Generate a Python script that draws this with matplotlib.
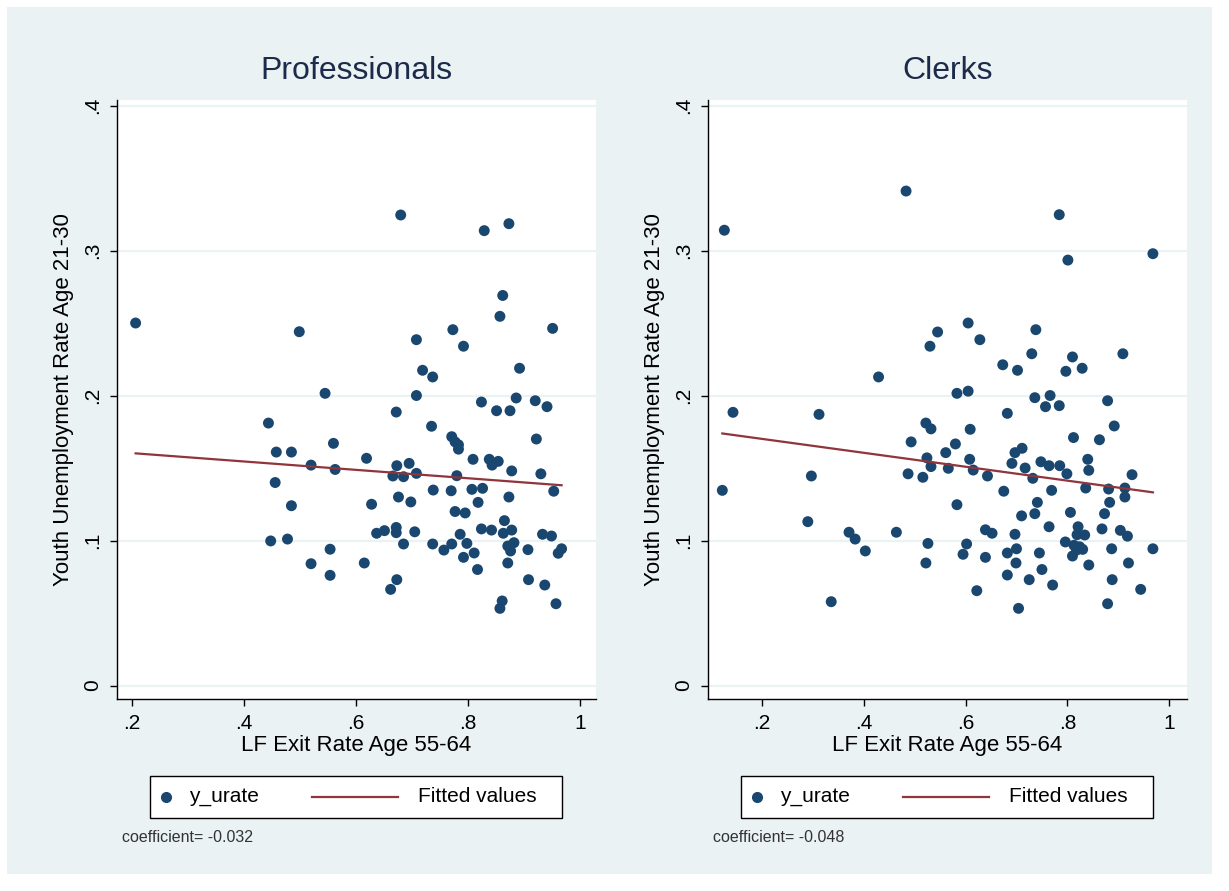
import numpy as np
import matplotlib.pyplot as plt
from matplotlib.patches import Rectangle
from matplotlib.lines import Line2D

plt.rcParams['font.family'] = ['Liberation Sans', 'DejaVu Sans']

# LF exit rate (55-64) vs youth unemployment rate (21-30)
pro_x = [0.207, 0.499, 0.545, 0.444, 0.458, 0.485, 0.560, 0.520, 0.563, 0.456,
         0.485, 0.448, 0.478, 0.554, 0.520, 0.554, 0.680, 0.829, 0.873, 0.862,
         0.857, 0.773, 0.951, 0.708, 0.792, 0.719, 0.737, 0.892, 0.708, 0.672,
         0.824, 0.851, 0.875, 0.886, 0.920, 0.941, 0.735, 0.771, 0.777, 0.783,
         0.783, 0.922, 0.619, 0.673, 0.695, 0.666, 0.685, 0.708, 0.809, 0.838,
         0.843, 0.854, 0.878, 0.930, 0.780, 0.628, 0.676, 0.698, 0.738, 0.770,
         0.807, 0.826, 0.818, 0.873, 0.953, 0.777, 0.795, 0.865, 0.637, 0.651,
         0.672, 0.672, 0.705, 0.685, 0.737, 0.757, 0.771, 0.786, 0.798, 0.792,
         0.811, 0.824, 0.842, 0.863, 0.878, 0.871, 0.882, 0.876, 0.907, 0.933,
         0.949, 0.961, 0.967, 0.615, 0.817, 0.871, 0.673, 0.662, 0.908, 0.937,
         0.857, 0.861, 0.957]
pro_y = [0.250, 0.244, 0.2015, 0.181, 0.161, 0.161, 0.167, 0.152, 0.149, 0.140,
         0.124, 0.0997, 0.101, 0.094, 0.084, 0.076, 0.3245, 0.3137, 0.3185, 0.269,
         0.2546, 0.2454, 0.2463, 0.2385, 0.234, 0.2174, 0.2128, 0.2188, 0.200, 0.1886,
         0.1955, 0.1895, 0.1895, 0.1983, 0.1964, 0.1923, 0.1788, 0.1716, 0.168, 0.166,
         0.163, 0.170, 0.1567, 0.1516, 0.1532, 0.1445, 0.144, 0.1463, 0.156, 0.156,
         0.152, 0.1546, 0.148, 0.146, 0.1447, 0.125, 0.130, 0.1266, 0.1348, 0.1343,
         0.1353, 0.136, 0.1263, 0.130, 0.134, 0.120, 0.119, 0.1137, 0.105, 0.1068,
         0.109, 0.1054, 0.106, 0.0976, 0.0976, 0.0934, 0.0976, 0.1043, 0.098, 0.0884,
         0.0914, 0.108, 0.1072, 0.105, 0.1072, 0.0962, 0.0985, 0.0928, 0.0937, 0.1043,
         0.1031, 0.0912, 0.0943, 0.0845, 0.080, 0.0845, 0.073, 0.0663, 0.073, 0.0693,
         0.0532, 0.0583, 0.0564]

clk_x = [0.126, 0.483, 0.545, 0.530, 0.429, 0.143, 0.312, 0.522, 0.532, 0.493,
         0.122, 0.297, 0.487, 0.516, 0.524, 0.532, 0.290, 0.371, 0.383, 0.403,
         0.464, 0.526, 0.522, 0.336, 0.784, 0.801, 0.968, 0.605, 0.628, 0.738,
         0.730, 0.810, 0.797, 0.829, 0.909, 0.673, 0.702, 0.583, 0.605, 0.736,
         0.766, 0.757, 0.784, 0.879, 0.682, 0.609, 0.892, 0.812, 0.863, 0.580,
         0.561, 0.566, 0.608, 0.615, 0.643, 0.697, 0.711, 0.691, 0.717, 0.732,
         0.748, 0.764, 0.785, 0.799, 0.840, 0.842, 0.927, 0.836, 0.881, 0.913,
         0.913, 0.675, 0.769, 0.583, 0.741, 0.736, 0.710, 0.806, 0.883, 0.873,
         0.764, 0.639, 0.652, 0.697, 0.821, 0.819, 0.834, 0.868, 0.904, 0.918,
         0.602, 0.595, 0.639, 0.682, 0.700, 0.699, 0.745, 0.796, 0.813, 0.818,
         0.830, 0.810, 0.824, 0.887, 0.968, 0.682, 0.750, 0.842, 0.920, 0.725,
         0.771, 0.888, 0.622, 0.944, 0.704, 0.879]
clk_y = [0.314, 0.341, 0.2438, 0.234, 0.2128, 0.1884, 0.187, 0.181, 0.177, 0.168,
         0.1346, 0.1445, 0.146, 0.1436, 0.157, 0.151, 0.113, 0.1057, 0.101, 0.0928,
         0.1057, 0.098, 0.0845, 0.0578, 0.3247, 0.2934, 0.2978, 0.250, 0.2385, 0.2454,
         0.2288, 0.2266, 0.2167, 0.2188, 0.2288, 0.2212, 0.2174, 0.2015, 0.203, 0.1985,
         0.200, 0.1923, 0.193, 0.1964, 0.1877, 0.1767, 0.179, 0.171, 0.1695, 0.1666,
         0.1606, 0.1498, 0.156, 0.1486, 0.1445, 0.1606, 0.1636, 0.1532, 0.150, 0.1429,
         0.1543, 0.1516, 0.1516, 0.146, 0.156, 0.1484, 0.1454, 0.1362, 0.1355, 0.1362,
         0.130, 0.134, 0.1346, 0.1247, 0.1263, 0.1185, 0.117, 0.1194, 0.1263, 0.1185,
         0.1095, 0.1074, 0.105, 0.1043, 0.1095, 0.104, 0.1038, 0.108, 0.107, 0.103,
         0.0976, 0.0905, 0.0884, 0.0914, 0.0943, 0.0845, 0.0914, 0.099, 0.0967, 0.0934,
         0.0939, 0.0893, 0.0957, 0.0943, 0.0943, 0.0762, 0.080, 0.0831, 0.0845, 0.073,
         0.0693, 0.073, 0.0654, 0.0663, 0.0532, 0.0564]

titles = ['Professionals', 'Clerks']
coef_labels = ['coefficient= -0.032', 'coefficient= -0.048']
x_ticks = [0.2, 0.4, 0.6, 0.8, 1.0]
x_ticklabels = ['.2', '.4', '.6', '.8', '1']
y_ticks = [0, 0.1, 0.2, 0.3, 0.4]
y_ticklabels = ['0', '.1', '.2', '.3', '.4']

NAVY = '#1A476F'
MAROON = '#90353B'
BG = '#EAF2F3'

W, H = 1229, 891
fig = plt.figure(figsize=(W / 100, H / 100), dpi=100, facecolor='white')

def fx(px):
    return px / W

def fy(py):
    return 1 - py / H

fig.patches.append(Rectangle((fx(7), fy(874)), fx(1212) - fx(7), fy(7) - fy(874),
                             transform=fig.transFigure, facecolor=BG,
                             edgecolor='none', zorder=-5))

panels = [(pro_x, pro_y, 117, (0.1738, 1.0284)),
          (clk_x, clk_y, 708, (0.0939, 1.035))]

for i, (xs, ys, left, xlim) in enumerate(panels):
    xs = np.array(xs)
    ys = np.array(ys)
    ax = fig.add_axes([fx(left), fy(699), fx(479), 599 / H])
    ax.set_facecolor('white')
    ax.set_axisbelow(True)
    ax.yaxis.grid(True, color=BG, lw=1.6)
    for s in ['top', 'right']:
        ax.spines[s].set_visible(False)
    for s in ['left', 'bottom']:
        ax.spines[s].set_color('black')
        ax.spines[s].set_linewidth(1.0)

    ax.scatter(xs, ys, s=62, color=NAVY, edgecolors='none', zorder=3)
    b, a = np.polyfit(xs, ys, 1)
    xl = np.array([xs.min(), xs.max()])
    ax.plot(xl, a + b * xl, color=MAROON, lw=1.6, zorder=4)

    ax.set_xlim(*xlim)
    ax.set_ylim(-0.0093, 0.4038)
    ax.set_xticks(x_ticks)
    ax.set_xticklabels(x_ticklabels, fontsize=15)
    ax.set_yticks(y_ticks)
    ax.set_yticklabels(y_ticklabels, fontsize=15, rotation=90, va='center')
    ax.tick_params(direction='out', length=5, width=1, color='black', pad=6)
    ax.set_xlabel('LF Exit Rate Age 55-64', fontsize=16, labelpad=1)
    ax.set_ylabel('Youth Unemployment Rate Age 21-30', fontsize=16, labelpad=6)
    ax.set_title(titles[i], fontsize=23, color='#1c2b4a', pad=15)

    # legend box drawn in figure pixels
    off = left - 117
    fig.patches.append(Rectangle((fx(150 + off), fy(818)), fx(412), 42 / H,
                                 transform=fig.transFigure, facecolor='white',
                                 edgecolor='black', lw=1.0, zorder=1))
    fig.lines.append(Line2D([fx(165.5 + off)], [fy(797)], marker='o', ms=7,
                            color=NAVY, ls='none', transform=fig.transFigure,
                            zorder=5))
    fig.text(fx(189 + off), fy(797), 'y_urate', fontsize=15, va='center', zorder=5)
    fig.lines.append(Line2D([fx(312 + off), fx(398 + off)], [fy(797), fy(797)],
                            color=MAROON, lw=1.6, transform=fig.transFigure,
                            zorder=5))
    fig.text(fx(418 + off), fy(797), 'Fitted values', fontsize=15, va='center',
             zorder=5)
    fig.text(fx(122 + off), fy(838), coef_labels[i], fontsize=11.5,
             color='#333333', va='center', zorder=5)

fig.savefig('out.png', dpi=100, facecolor='white')
